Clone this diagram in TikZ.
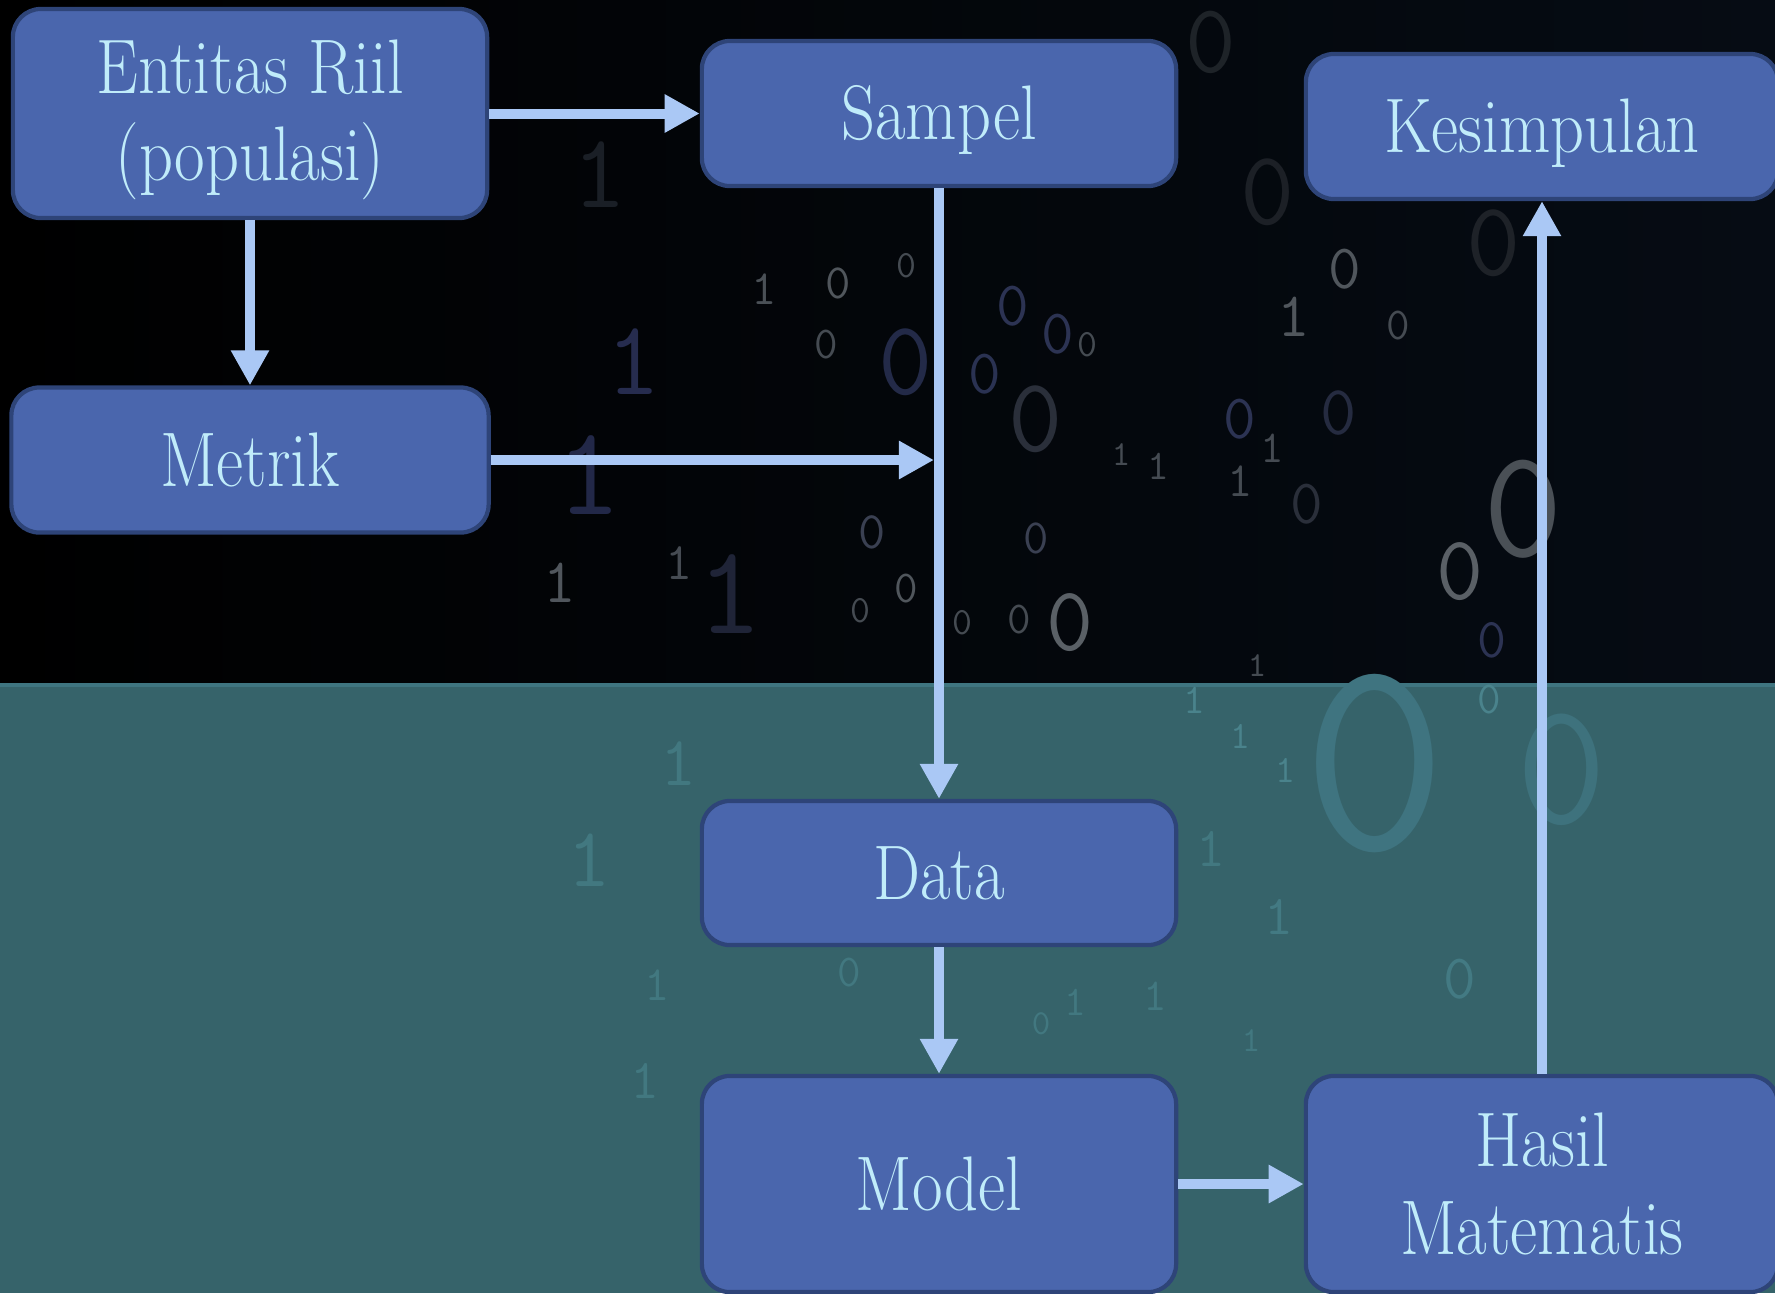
\documentclass[tikz,border=0pt]{standalone}
\usepackage{fontspec}
\usepackage{graphicx}
\usetikzlibrary{arrows.meta}
\definecolor{boxfill}{HTML}{4A66AD}
\definecolor{boxline}{HTML}{2E4478}
\definecolor{arrowc}{HTML}{AAC8F5}
\definecolor{txtc}{HTML}{C0ECFA}
\definecolor{bgteal}{HTML}{36636A}
\definecolor{bgtop}{HTML}{060C14}
\definecolor{seam}{HTML}{3F7580}
\newcommand\sx[1]{\scalebox{0.86}[1]{#1}}
\newcommand\sxd[1]{\raisebox{-1.8pt}[\height][\depth]{\scalebox{0.86}[1]{#1}}}
\tikzset{
  box/.style={draw=boxline, line width=1.2pt, fill=boxfill, rounded corners=0.28cm,
    minimum width=4.74cm, text=txtc, font=\fontsize{22}{25}\selectfont,
    align=center, inner sep=0pt},
  arr/.style={draw=arrowc, line width=0.1cm, -{Triangle[width=0.36cm,length=0.35cm]}},
  digit/.style={inner sep=0pt}
}
\begin{document}
\begin{tikzpicture}[x=0.01cm,y=-0.01cm]
\useasboundingbox (0,0) rectangle (1775,1293);
% background
\shade[left color=black, right color=bgtop] (0,0) rectangle (1775,685);
\fill[bgteal] (0,685) rectangle (1775,1293);
\draw[seam, line width=1.2pt] (0,685) -- (1775,685);
% faint binary digits of the background
\foreach \x/\y/\s/\c/\d [count=\i] in {
 1211/42/28/1E2328/0, 600/175/30/1A1F26/1, 1268/192/30/1C2026/0, 1494/243/30/1E2228/0,
 1345/269/18/50565C/0, 1294/317/18/50565C/1, 1398/326/13/454B52/0, 634/362/30/262C4E/1,
 906/362/30/232A48/0, 985/374/18/2A3252/0, 1036/419/30/2A2F3A/0, 589/475/36/222848/1,
 560/583/18/50565C/1, 679/563/15/454B52/1, 730/594/36/1F2437/1, 1070/623/26/5A6066/0,
 1460/572/26/5A6066/0, 1523/509/44/4A5056/0, 1375/764/80/3F7480/0, 1562/770/50/3E727D/0,
 589/860/24/427880/1, 679/764/20/427880/1, 1460/979/18/437A83/0, 1279/917/16/437A83/1,
 838/283/14/50565C/0, 826/345/13/454B52/0, 764/289/14/4A5056/1, 906/266/11/454B52/0,
 1013/306/18/2C3353/0, 1058/334/18/2C3353/0, 1087/345/11/454B52/0, 1272/448/13/454B52/1,
 1240/481/14/454B52/1, 1158/466/12/454B52/1, 1121/455/10/454B52/1, 1240/419/18/2C3353/0,
 1339/413/20/252B40/0, 1307/504/18/2A2F3A/0, 872/532/15/3A4052/0, 906/589/13/50565C/0,
 1036/538/14/3A4052/0, 962/623/11/454B52/0, 860/611/11/454B52/0, 1019/620/13/454B52/0,
 1492/640/16/2C3353/0, 1257/666/10/454B52/1, 1489/700/13/4A838C/0,
 1194/700/12/4A838C/1, 1240/736/11/4A838C/1, 1285/770/11/4A838C/1,
 1211/849/16/427880/1, 1155/996/13/427880/1, 1075/1002/12/427880/1, 1041/1024/10/427880/0,
 1251/1041/10/427880/1, 849/973/13/427880/0, 657/985/14/427880/1, 645/1081/16/427880/1}
 {\definecolor{dc}{HTML}{\c}
  \node[digit, text=dc, font=\fontsize{\s}{\s}\selectfont\ttfamily] (dg\i) at (\x,\y) {\d};}
% boxes
\node[box, minimum height=2.09cm] (ent) at (250,113.5) {\sxd{Entitas Riil}\\\sxd{(populasi)}};
\node[box, minimum height=1.45cm] (sam) at (939,113.5) {\sxd{Sampel}};
\node[box, minimum height=1.45cm, minimum width=4.72cm] (kes) at (1542,126.5) {\sxd{Kesimpulan}};
\node[box, minimum width=4.77cm, minimum height=1.45cm] (met) at (250,460) {\sx{Metrik}};
\node[box, minimum height=1.44cm] (data) at (939,873) {\sx{Data}};
\node[box, minimum height=2.16cm] (model) at (939,1184) {\sx{Model}};
\node[box, minimum height=2.16cm, minimum width=4.72cm] (hasil) at (1542,1184) {\sx{Hasil}\\\sx{Matematis}};
\coordinate (join) at (934,460);
% connectors
\draw[arr] (ent) -- (sam);
\draw[arr] (ent) -- (met);
\draw[arr] (met) -- (join);
\draw[arr] (sam) -- (data);
\draw[arr] (data) -- (model);
\draw[arr] (model) -- (hasil);
\draw[arr] (hasil) -- (kes);
\end{tikzpicture}
\end{document}
